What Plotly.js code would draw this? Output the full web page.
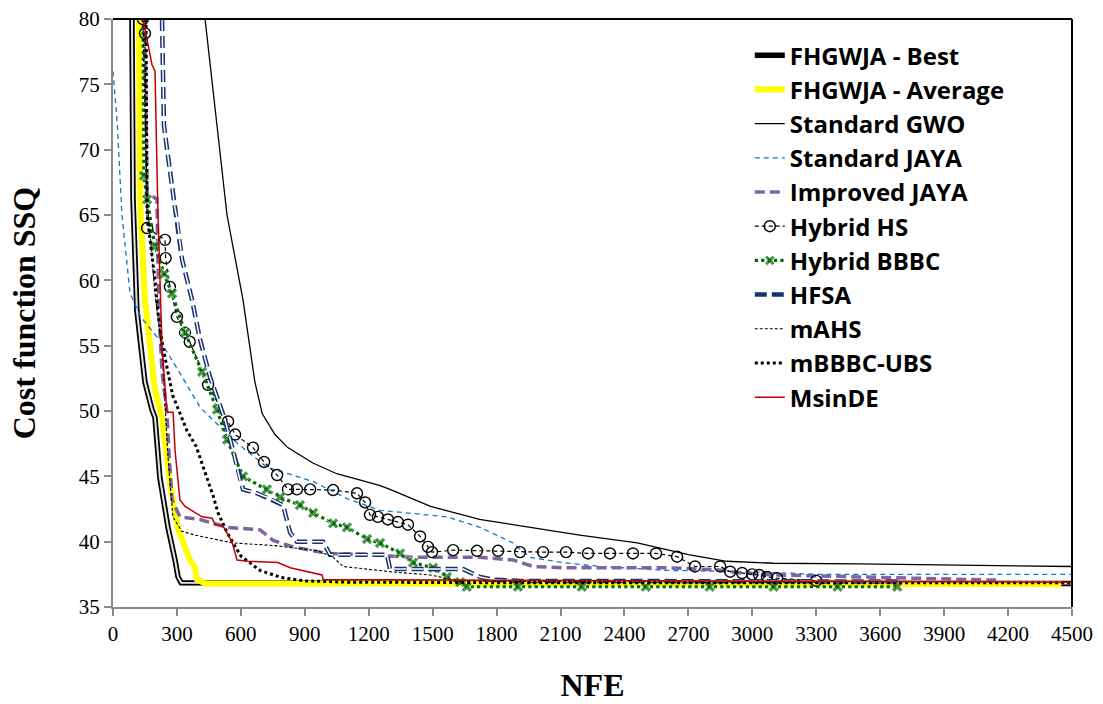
<!DOCTYPE html>
<html><head><meta charset="utf-8">
<script src="https://cdn.plot.ly/plotly-3.0.1.min.js"></script>
<style>html,body{margin:0;padding:0;background:#fff}#chart{width:1103px;height:704px}</style>
</head><body><div id="chart"></div>
<script>
const xTicks = [0,300,600,900,1200,1500,1800,2100,2400,2700,3000,3300,3600,3900,4200,4500];
const yTicks = [35,40,45,50,55,60,65,70,75,80];
const seriesNames = ["FHGWJA - Best","FHGWJA - Average","Standard GWO","Standard JAYA","Improved JAYA","Hybrid HS","Hybrid BBBC","HFSA","mAHS","mBBBC-UBS","MsinDE"];

const bestX = [89,94,112,135,150,183,197,220,258,291,305,320,4500];
const bestY = [80,66.2,57.7,54.5,52.2,50.1,49.5,44.9,41.1,38.6,37.3,36.85,36.8];

const avgX = [122,127,150,197,230,267,305,361,385,394,432,4450];
const avgY = [80,66,58.5,51.6,49.5,44.5,41,38.6,38.0,37.1,36.8,36.75];

const gwoX = [432,535,610,666,700,760,820,940,1050,1250,1300,1490,1720,1960,2190,2460,2700,2880,3100,3500,4500];
const gwoY = [80,65,58.5,52.2,49.8,48.2,47.2,46,45.2,44.3,44.0,42.7,41.7,41.1,40.5,39.9,39.0,38.5,38.35,38.3,38.1];

const jayaX = [0,20,42,80,130,220,314,408,563,722,939,1098,1253,1567,1722,1877,1957,2112,2285,2600,3000,3300,4500];
const jayaY = [76,72,65,59,57.2,55.4,52.9,50.3,47.8,45.7,44.6,43.3,42.4,41.9,41.1,39.9,38.8,38.4,38.1,37.8,37.7,37.5,37.5];

const ijayaX = [150,158,160,206,215,230,253,262,277,314,408,535,690,751,845,1004,1192,1408,1722,1877,1971,2112,2600,2835,2950,3116,3506,3850,4163];
const ijayaY = [80,70,66.7,66.2,57.7,53,49.9,47,43.2,41.9,41.7,41.1,40.9,40.1,39.6,39.1,39.0,38.8,38.8,38.6,38.1,38.0,38.0,37.85,37.6,37.45,37.3,37.15,37.05];

const hsX = [140,150,160,244,247,267,300,338,360,446,540,573,657,709,770,821,863,925,1033,1145,1183,1206,1243,1290,1337,1384,1441,1478,1497,1596,1708,1807,1910,2018,2126,2229,2332,2440,2548,2647,2731,2849,2896,2952,2999,3032,3069,3116,3300];
const hsY = [80,78.9,64,63.1,61.7,59.5,57.2,56,55.3,52,49.2,48.2,47.2,46.1,45.1,44.0,44.0,44.0,43.95,43.7,43.0,42.05,41.9,41.7,41.5,41.3,40.4,39.6,39.2,39.35,39.3,39.3,39.2,39.2,39.2,39.1,39.1,39.1,39.1,38.85,38.1,38.1,37.7,37.6,37.5,37.45,37.3,37.2,37.0];

const bbbcX = [141,143,145,160,197,240,277,338,418,488,535,610,722,784,877,939,1033,1098,1192,1253,1347,1408,1502,1567,1629,1660,1900,2200,2500,2800,3100,3400,3680];
const bbbcY = [80,72,68,66.2,62.6,60.5,59,56,53,50.1,47.8,45,44,43.4,42.8,42.2,41.4,41.1,40.2,39.9,39.1,38.4,38,37.3,36.9,36.55,36.55,36.55,36.55,36.55,36.55,36.55,36.55];

const hfsaX = [230,239,253,277,291,300,324,371,408,455,488,526,563,596,610,676,751,798,831,863,986,1018,1286,1300,1643,1722,1783,1900,3700];
const hfsaY = [80,71.9,70.1,67.1,65.5,64.8,61.6,58.5,55.5,52.6,51.1,49.3,47,44.7,44.0,43.7,43.2,42.8,40.7,40.0,40.0,39.0,39.0,37.9,37.9,37.3,37.1,37.0,36.95];

const mahsX = [140,155,160,197,220,234,244,258,281,323,385,563,760,962,1033,1080,1192,1300,1488,1535,1600,2000,3300];
const mahsY = [80,68,66.2,59,56,53.4,50.8,46.5,41.9,40.8,40.5,39.9,39.7,39.3,38.8,38.1,37.9,37.7,37.45,37.3,37.0,36.95,36.9];

const mbbbcX = [155,158,160,197,211,234,258,280,347,390,432,470,493,535,600,690,790,900,1100,2000,4500];
const mbbbcY = [80,70,65,60,57.5,54.9,52.9,51.2,48.5,47.3,45.3,43.5,42.2,40.7,38.9,37.8,37.25,37.0,36.9,36.85,36.85];

const msinX = [141,183,197,211,230,244,253,282,291,314,338,418,465,479,516,558,582,634,774,831,910,981,986,1500,2500,4500];
const msinY = [80,76.5,76,65,55,51.6,49.9,49.9,47.0,43.2,42.7,41.9,41.8,41.3,41.2,40.0,38.6,38.5,38.4,38.0,37.7,37.45,37.1,37.05,37.0,36.9];

const traces = [
  {x:bestX,y:bestY,name:seriesNames[0],mode:'lines',line:{color:'#000',width:5.5}},
  {x:bestX,y:bestY,name:seriesNames[0],showlegend:false,mode:'lines',line:{color:'#e4e4e4',width:2},hoverinfo:'skip'},
  {x:avgX,y:avgY,name:seriesNames[1],mode:'lines',line:{color:'#FFFF00',width:6}},
  {x:gwoX,y:gwoY,name:seriesNames[2],mode:'lines',line:{color:'#000',width:1.3}},
  {x:jayaX,y:jayaY,name:seriesNames[3],mode:'lines',line:{color:'#0a78cc',width:1.3,dash:'5px,4px'}},
  {x:ijayaX,y:ijayaY,name:seriesNames[4],mode:'lines',line:{color:'#8064A2',width:3.5,dash:'10px,5px'}},
  {x:hsX,y:hsY,name:seriesNames[5],mode:'lines+markers',line:{color:'#000',width:1.2,dash:'4px,3px'},
   marker:{symbol:'circle-open',size:11,color:'#000',line:{color:'#000',width:1.4}}},
  {x:bbbcX,y:bbbcY,name:seriesNames[6],mode:'lines+markers',line:{color:'#006a00',width:3.2,dash:'dot'},
   marker:{symbol:'x',size:bbbcY.map(v=>v>68.5?0:10),color:'#006a00'}},
  {x:hfsaX,y:hfsaY,name:seriesNames[7],mode:'lines',line:{color:'#17336e',width:4.5,dash:'12px,5px'}},
  {x:hfsaX,y:hfsaY,name:seriesNames[7],showlegend:false,mode:'lines',line:{color:'#ffffff',width:1.5,dash:'12px,5px'},hoverinfo:'skip'},
  {x:mahsX,y:mahsY,name:seriesNames[8],mode:'lines',line:{color:'#000',width:1.1,dash:'3px,2px'}},
  {x:mbbbcX,y:mbbbcY,name:seriesNames[9],mode:'lines',line:{color:'#000',width:3,dash:'dot'}},
  {x:msinX,y:msinY,name:seriesNames[10],mode:'lines',line:{color:'#C00000',width:1.5}}
];

const tickFont = {family:'Liberation Serif, serif',size:21,color:'#000'};
const titleFont = {family:'Liberation Serif, serif',size:32,color:'#000',weight:'bold'};

const layout = {
  width:1103,height:704,
  margin:{l:113,r:31,t:19,b:97},
  paper_bgcolor:'#fff',plot_bgcolor:'#fff',
  showlegend:true,
  legend:{x:0.664,y:0.976,xanchor:'left',yanchor:'top',bgcolor:'rgba(0,0,0,0)',
    font:{family:'Open Sans, sans-serif',size:24,color:'#000',weight:'bold'},tracegroupgap:0},
  xaxis:{range:[0,4500],tickvals:xTicks,ticktext:xTicks.map(String),ticks:'outside',ticklen:7,tickwidth:2,tickcolor:'#8a8a8a',
    showline:true,linecolor:'#8a8a8a',linewidth:2,showgrid:false,zeroline:false,tickfont:tickFont,
    title:{text:'NFE',font:titleFont,standoff:28}},
  yaxis:{range:[35,80],tickvals:yTicks,ticktext:yTicks.map(String),ticks:'outside',ticklen:7,tickwidth:2,tickcolor:'#8a8a8a',
    showline:true,linecolor:'#8a8a8a',linewidth:2,showgrid:false,zeroline:false,tickfont:tickFont,
    title:{text:'Cost function SSQ',font:titleFont,standoff:34}},
  shapes:[
    {type:'line',xref:'paper',yref:'paper',x0:0,x1:1,y0:1,y1:1,line:{color:'#000',width:2},layer:'above'},
    {type:'line',xref:'paper',yref:'paper',x0:1,x1:1,y0:0,y1:1,line:{color:'#000',width:2},layer:'above'}
  ]
};

Plotly.newPlot('chart',traces,layout,{displayModeBar:false,staticPlot:true});
</script>
</body></html>
